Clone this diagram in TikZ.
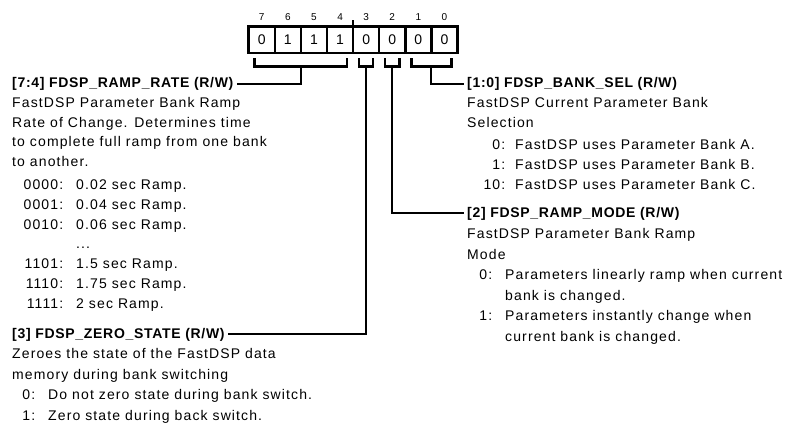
\documentclass[tikz,border=0pt]{standalone}
\usepackage{fontspec}
\setmainfont{Liberation Sans}[LetterSpace=8,BoldFeatures={LetterSpace=5}]
\usetikzlibrary{positioning,calc}

\newcommand{\fieldval}[3]{\makebox[#2][l]{\makebox[#1][r]{#3}}}

\begin{document}
\begin{tikzpicture}[x=1pt, y=-1pt,
    bitBox/.style={draw, line width=2.5pt, outer sep=0pt, minimum width=26.1pt, minimum height=26.7pt, inner sep=0pt, font=\fontsize{14}{14}\selectfont},
    bitNum/.style={inner sep=0pt, font=\fontsize{10}{10}\selectfont},
    bracket/.style={draw, line width=2.5pt},
    wire/.style={draw, line width=2pt},
    fTitle/.style={inner xsep=3pt, inner ysep=0pt, anchor=base west, font=\fontsize{14}{19.8}\selectfont\bfseries},
    fBody/.style={inner sep=0pt, anchor=base west, align=left, font=\fontsize{14}{19.8}\selectfont}
]
    \useasboundingbox (0,0) rectangle (794,426);

    % register bits
    \foreach \b/\v [count=\i from 0] in {7/0,6/1,5/1,4/1,3/0,2/0,1/0,0/0} {
        \node[bitBox] (b\b) at ({261.75+26.1*\i}, 39.7) {\v};
        \node[bitNum] (n\b) at ({261.75+26.1*\i}, 16.7) {\b};
    }
    \draw[wire] (b4.north east) -- ++(0,-6);

    % field brackets
    \foreach \l/\r/\j in {7/4/rateJoin, 3/3/zeroJoin, 2/2/modeJoin, 1/0/selJoin} {
        \draw[bracket] ([shift={(6,5)}]b\l.south west) |- ([shift={(-6,13.5)}]b\r.south east) -- ([shift={(-6,5)}]b\r.south east);
        \coordinate (\j) at ($(b\l.south west)!0.5!(b\r.south east)+(0,13.5)$);
    }

    % [7:4] (body nodes sit on their last baseline)
    \node[fTitle] (rateTitle) at (9, 87.5) {[7:4] FDSP\_RAMP\_RATE (R/W)};
    \node[fBody] (rateBody) at (12, 308.3) {FastDSP Parameter Bank Ramp\\
        Rate of Change. Determines time\\
        to complete full ramp from one bank\\
        to another.\\[3pt]
        \fieldval{51pt}{64pt}{0000:}0.02 sec Ramp.\\
        \fieldval{51pt}{64pt}{0001:}0.04 sec Ramp.\\
        \fieldval{51pt}{64pt}{0010:}0.06 sec Ramp.\\
        \fieldval{51pt}{64pt}{}...\\
        \fieldval{51pt}{64pt}{1101:}1.5 sec Ramp.\\
        \fieldval{51pt}{64pt}{1110:}1.75 sec Ramp.\\
        \fieldval{51pt}{64pt}{1111:}2 sec Ramp.};

    % [3]
    \node[fTitle] (zeroTitle) at (9, 338) {[3] FDSP\_ZERO\_STATE (R/W)};
    \node[fBody, font=\fontsize{14}{20.5}\selectfont] (zeroBody) at (12, 420.3) {Zeroes the state of the FastDSP data\\
        memory during bank switching\\
        \fieldval{23pt}{36pt}{0:}Do not zero state during bank switch.\\
        \fieldval{23pt}{36pt}{1:}Zero state during back switch.};

    % [1:0]
    \node[fTitle] (selTitle) at (464, 87.5) {[1:0] FDSP\_BANK\_SEL (R/W)};
    \node[fBody] (selBody) at (467, 189.5) {FastDSP Current Parameter Bank\\
        Selection\\[3pt]
        \fieldval{38pt}{48pt}{0:}FastDSP uses Parameter Bank A.\\
        \fieldval{38pt}{48pt}{1:}FastDSP uses Parameter Bank B.\\
        \fieldval{38pt}{48pt}{10:}FastDSP uses Parameter Bank C.};

    % [2]
    \node[fTitle] (modeTitle) at (464, 217) {[2] FDSP\_RAMP\_MODE (R/W)};
    \node[fBody, font=\fontsize{14}{20.5}\selectfont] (modeBody) at (467, 341) {FastDSP Parameter Bank Ramp\\
        Mode\\
        \fieldval{25pt}{38pt}{0:}Parameters linearly ramp when current\\
        \hspace*{38pt}bank is changed.\\
        \fieldval{25pt}{38pt}{1:}Parameters instantly change when\\
        \hspace*{38pt}current bank is changed.};

    \draw[wire] (rateJoin) |- (rateTitle.east);
    \draw[wire] (zeroJoin) |- (zeroTitle.east);
    \draw[wire] (modeJoin) |- (modeTitle.west);
    \draw[wire] (selJoin) |- (selTitle.west);
\end{tikzpicture}
\end{document}
